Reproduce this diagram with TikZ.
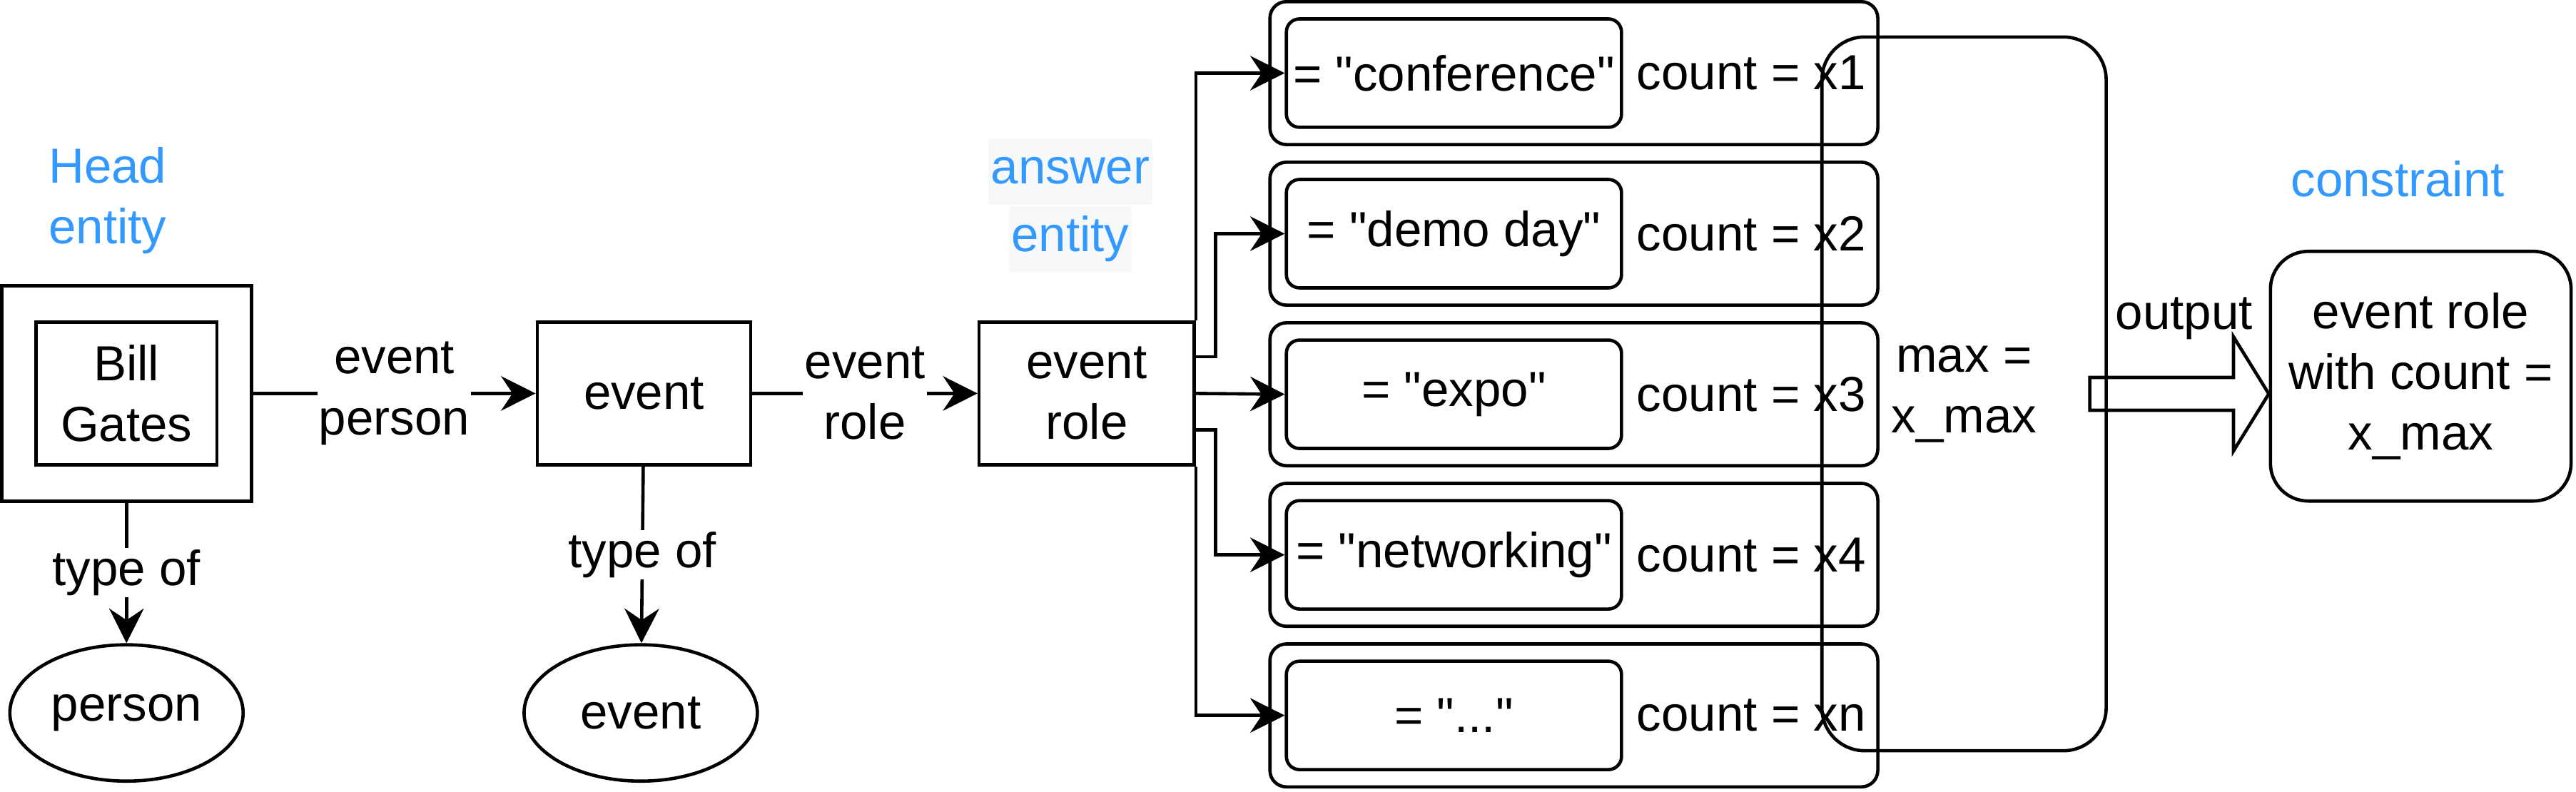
\documentclass[tikz,border=0pt]{standalone}
\usepackage{fontspec}
\setmainfont{Liberation Sans}
\usepackage{tikz}
\usetikzlibrary{arrows.meta,calc,shapes.geometric}
\definecolor{hintblue}{RGB}{51,153,255}
\definecolor{hintshade}{RGB}{246,248,250}
\newcommand{\marktext}[1]{{\setlength{\fboxsep}{1.5pt}\colorbox{hintshade}{\strut #1}}}
\newcommand{\qt}[1]{= \textquotedbl#1\textquotedbl}
\newcommand{\moredots}{...}

\begin{document}
\begin{tikzpicture}[x=1pt,y=-1pt,line width=2pt,
  every node/.style={font=\fontsize{30}{37}\selectfont,align=center},
  entbox/.style={draw,rectangle,inner sep=0pt},
  rbox/.style={draw,rectangle,rounded corners=#1,inner sep=0pt},rbox/.default=10pt,
  oval/.style={draw,ellipse,inner sep=0pt,minimum width=142pt,minimum height=83pt},
  lbl/.style={fill=white,inner sep=1pt},
  hint/.style={text=hintblue},
  conn/.style={-{Stealth[length=21pt,width=21pt,inset=7pt]}}]
\useasboundingbox (0,0) rectangle (1568,482);

\node[entbox,minimum width=152pt,minimum height=131pt] (headbox) at (77,239.5) {};
\node[entbox,minimum width=110pt,minimum height=87pt] (bill) at (headbox) {Bill\\Gates};
\node[entbox,minimum width=130pt,minimum height=87pt] (evt) at (392,239.5) {event};
\node[entbox,minimum width=131pt,minimum height=87pt] (role) at (661.5,239.5) {event\\role};
\node[oval] (person) at (77,434) {person};
\node[oval] (evtype) at (390,434) {event};

\node[hint] (headlbl) at (65.5,122) {Head\\entity};
\node[hint] (anslbl) at (651.5,125) {\marktext{answer}\\\marktext{entity}};
\node[hint] (conslbl) at (1459.5,109) {constraint};

\foreach \val/\cnt [count=\i] in %
{conference/x1,demo day/x2,expo/x3,networking/x4,\moredots/xn} {
   \node[rbox,minimum width=370pt,minimum height=87pt] (row\i) at (958,{44.5+97.75*(\i-1)}) {};
   \node[rbox=8pt,minimum width=204pt,minimum height=66pt] (val\i) at (885,{44.5+97.75*(\i-1)}) {\qt{\val}};
   \node (cnt\i) at (1066,{44.5+97.75*(\i-1)}) {count = \cnt};
}

\node[rbox=26pt,minimum width=173pt,minimum height=434.5pt] (maxbox) at (1195.5,239.75) {max =\\x\_max};
\node[rbox=23pt,minimum width=183pt,minimum height=152pt] (cons) at (1473.5,229) {event role\\with count =\\x\_max};

\draw[conn] (headbox) -- node[lbl] {event\\person} (evt);
\draw[conn] (evt) -- node[lbl] {event\\role} (role);
\draw[conn] (headbox) -- node[lbl] {type of} (person);
\draw[conn] (evt) -- node[lbl] {type of} (evtype);

\draw[conn] (role.north east) |- (val1);
\draw[conn] ($(role.north east)!0.25!(role.south east)$) -- ++(12,0) |- (val2);
\draw[conn] (role.east) -- (val3.west);
\draw[conn] ($(role.north east)!0.75!(role.south east)$) -- ++(12,0) |- (val4);
\draw[conn] (role.south east) |- (val5);

% block arrow into the constraint
\coordinate (outtip) at (cons.west |- maxbox.center);
\draw (outtip) -- ++(-21.5,-34.75) -- ++(0,24.75) -- ++(-87.5,0) -- ++(0,20)
   -- ++(87.5,0) -- ++(0,24.75) -- cycle;
\node (outlbl) at (1329.5,194) {output};
\end{tikzpicture}
\end{document}
